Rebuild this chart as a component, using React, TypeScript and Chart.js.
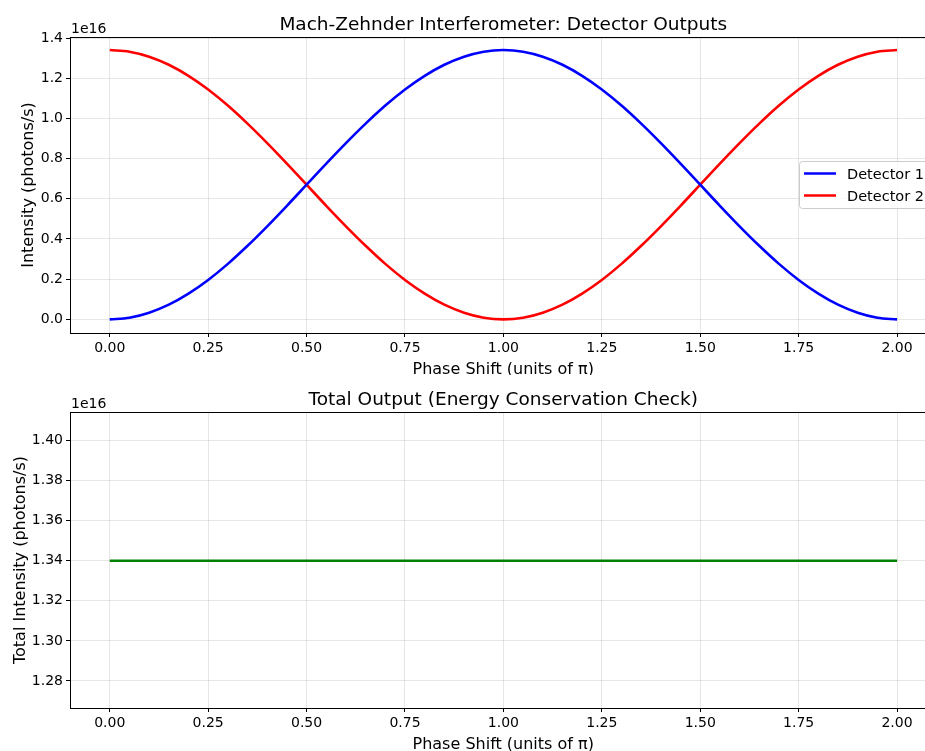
import React, { useEffect, useRef } from "react";
import { Chart, registerables } from "chart.js";
Chart.register(...registerables);

// ---- data (intensities in units of 1e16 photons/s) ----
const phase = [
  0, 0.05, 0.1, 0.15, 0.2, 0.25, 0.3, 0.35, 0.4, 0.45, 0.5, 0.55, 0.6, 0.65, 0.7, 0.75, 0.8, 0.85, 0.9, 0.95,
  1.0, 1.05, 1.1, 1.15, 1.2, 1.25, 1.3, 1.35, 1.4, 1.45, 1.5, 1.55, 1.6, 1.65, 1.7, 1.75, 1.8, 1.85, 1.9, 1.95, 2.0,
];
const detector1 = [
  0.0, 0.008, 0.033, 0.073, 0.128, 0.196, 0.276, 0.366, 0.463, 0.565, 0.67, 0.775, 0.877, 0.974, 1.064, 1.144,
  1.212, 1.267, 1.307, 1.332, 1.34, 1.332, 1.307, 1.267, 1.212, 1.144, 1.064, 0.974, 0.877, 0.775, 0.67, 0.565,
  0.463, 0.366, 0.276, 0.196, 0.128, 0.073, 0.033, 0.008, 0.0,
];
const detector2 = [
  1.34, 1.332, 1.307, 1.267, 1.212, 1.144, 1.064, 0.974, 0.877, 0.775, 0.67, 0.565, 0.463, 0.366, 0.276, 0.196,
  0.128, 0.073, 0.033, 0.008, 0.0, 0.008, 0.033, 0.073, 0.128, 0.196, 0.276, 0.366, 0.463, 0.565, 0.67, 0.775,
  0.877, 0.974, 1.064, 1.144, 1.212, 1.267, 1.307, 1.332, 1.34,
];
const totalOutput = [
  1.34, 1.34, 1.34, 1.34, 1.34, 1.34, 1.34, 1.34, 1.34, 1.34, 1.34, 1.34, 1.34, 1.34, 1.34, 1.34, 1.34, 1.34,
  1.34, 1.34, 1.34, 1.34, 1.34, 1.34, 1.34, 1.34, 1.34, 1.34, 1.34, 1.34, 1.34, 1.34, 1.34, 1.34, 1.34, 1.34,
  1.34, 1.34, 1.34, 1.34, 1.34,
];
const xTicks = [0, 0.25, 0.5, 0.75, 1.0, 1.25, 1.5, 1.75, 2.0];
const topYTicks = [0, 0.2, 0.4, 0.6, 0.8, 1.0, 1.2, 1.4];
const bottomYTicks = [1.28, 1.3, 1.32, 1.34, 1.36, 1.38, 1.4];
const seriesNames = ["Detector 1", "Detector 2", "Total"];
const topTitle = "Mach-Zehnder Interferometer: Detector Outputs";
const bottomTitle = "Total Output (Energy Conservation Check)";
const xLabel = "Phase Shift (units of π)";
const topYLabel = "Intensity (photons/s)";
const bottomYLabel = "Total Intensity (photons/s)";
const offsetText = "1e16";

const FONT = "'DejaVu Sans', Verdana, sans-serif";
const W = 925;

type Cfg = {
  height: number;
  datasets: { label: string; data: number[]; color: string }[];
  yMin: number;
  yMax: number;
  yTicks: number[];
  yDec: number;
  title: string;
  yLabel: string;
  yLabelX: number;
  legend: boolean;
};

function makeChart(canvas: HTMLCanvasElement, cfg: Cfg) {
  const decor = {
    id: "decor",
    afterDraw(chart: any) {
      const ctx = chart.ctx as CanvasRenderingContext2D;
      const a = chart.chartArea;
      const xs = chart.scales.x;
      const axesRight = xs.getPixelForValue(2.1);
      const cx = (a.left + axesRight) / 2;
      ctx.save();
      // top spine
      ctx.strokeStyle = "#000";
      ctx.lineWidth = 1;
      ctx.beginPath();
      ctx.moveTo(a.left, Math.round(a.top) + 0.5);
      ctx.lineTo(a.right, Math.round(a.top) + 0.5);
      ctx.stroke();
      ctx.fillStyle = "#000";
      // title
      ctx.font = `18.5px ${FONT}`;
      ctx.textAlign = "center";
      ctx.textBaseline = "alphabetic";
      ctx.fillText(cfg.title, cx, 30);
      // offset text
      ctx.font = `14px ${FONT}`;
      ctx.textAlign = "left";
      ctx.fillText(offsetText, a.left + 1, 33);
      // x label
      ctx.font = `16px ${FONT}`;
      ctx.textAlign = "center";
      ctx.fillText(xLabel, cx, 373.5);
      // y label
      ctx.save();
      ctx.translate(cfg.yLabelX, (a.top + a.bottom) / 2);
      ctx.rotate(-Math.PI / 2);
      ctx.fillText(cfg.yLabel, 0, 0);
      ctx.restore();
      // legend
      if (cfg.legend) {
        const lx = 799.5, ly = 161.5, lw = 150, lh = 47;
        ctx.beginPath();
        const r = 3;
        ctx.moveTo(lx + r, ly);
        ctx.lineTo(lx + lw - r, ly);
        ctx.arcTo(lx + lw, ly, lx + lw, ly + r, r);
        ctx.lineTo(lx + lw, ly + lh - r);
        ctx.arcTo(lx + lw, ly + lh, lx + lw - r, ly + lh, r);
        ctx.lineTo(lx + r, ly + lh);
        ctx.arcTo(lx, ly + lh, lx, ly + lh - r, r);
        ctx.lineTo(lx, ly + r);
        ctx.arcTo(lx, ly, lx + r, ly, r);
        ctx.closePath();
        ctx.fillStyle = "rgba(255,255,255,0.8)";
        ctx.fill();
        ctx.strokeStyle = "rgb(204,204,204)";
        ctx.lineWidth = 1;
        ctx.stroke();
        cfg.datasets.forEach((d, i) => {
          const y = 173.5 + i * 22;
          ctx.strokeStyle = d.color;
          ctx.lineWidth = 2.5;
          ctx.beginPath();
          ctx.moveTo(804, y);
          ctx.lineTo(836, y);
          ctx.stroke();
          ctx.fillStyle = "#000";
          ctx.font = `14.5px ${FONT}`;
          ctx.textAlign = "left";
          ctx.textBaseline = "alphabetic";
          ctx.fillText(d.label, 847, y + 5);
        });
      }
      ctx.restore();
    },
  };

  const tickFont = { family: FONT, size: 14 };
  return new Chart(canvas, {
    type: "line",
    data: {
      datasets: cfg.datasets.map((d) => ({
        label: d.label,
        data: phase.map((p, i) => ({ x: p, y: d.data[i] })),
        borderColor: d.color,
        backgroundColor: d.color,
        borderWidth: 2.6,
        pointRadius: 0,
        cubicInterpolationMode: "monotone" as const,
        fill: false,
      })),
    },
    options: {
      animation: false,
      responsive: false,
      layout: { padding: { top: 37, left: 0, right: 0, bottom: 0 } },
      plugins: { legend: { display: false }, title: { display: false }, tooltip: { enabled: false } },
      scales: {
        x: {
          type: "linear",
          min: -0.101,
          max: 2.071,
          afterFit: (s: any) => {
            s.height = cfg.height - 333;
          },
          afterBuildTicks: (s: any) => {
            s.ticks = xTicks.map((v) => ({ value: v }));
          },
          ticks: {
            font: tickFont,
            color: "#000",
            padding: 3,
            maxRotation: 0,
            autoSkip: false,
            callback: (v: any) => Number(v).toFixed(2),
          },
          grid: {
            color: "rgba(176,176,176,0.32)",
            lineWidth: 1,
            tickColor: "#000",
            tickLength: 4,
            drawTicks: true,
          },
          border: { display: true, color: "#000", width: 1 },
        },
        y: {
          type: "linear",
          min: cfg.yMin,
          max: cfg.yMax,
          afterFit: (s: any) => {
            s.width = 70;
          },
          afterBuildTicks: (s: any) => {
            s.ticks = cfg.yTicks.map((v) => ({ value: v }));
          },
          ticks: {
            font: tickFont,
            color: "#000",
            padding: 3,
            autoSkip: false,
            callback: (v: any) => Number(v).toFixed(cfg.yDec),
          },
          grid: {
            color: "rgba(176,176,176,0.32)",
            lineWidth: 1,
            tickColor: "#000",
            tickLength: 4,
            drawTicks: true,
          },
          border: { display: true, color: "#000", width: 1 },
        },
      },
    },
    plugins: [decor],
  } as any);
}

function ChartPanel({ cfg, top }: { cfg: Cfg; top: number }) {
  const ref = useRef<HTMLCanvasElement | null>(null);
  useEffect(() => {
    if (!ref.current) return;
    const c = makeChart(ref.current, cfg);
    return () => c.destroy();
  }, []);
  return (
    <canvas
      ref={ref}
      width={W}
      height={cfg.height}
      style={{ position: "absolute", left: 0, top, width: W, height: cfg.height, display: "block" }}
    />
  );
}

export default function App() {
  const topCfg: Cfg = {
    height: 375,
    datasets: [
      { label: seriesNames[0], data: detector1, color: "#0000ff" },
      { label: seriesNames[1], data: detector2, color: "#ff0000" },
    ],
    yMin: -0.068,
    yMax: 1.405,
    yTicks: topYTicks,
    yDec: 1,
    title: topTitle,
    yLabel: topYLabel,
    yLabelX: 32.5,
    legend: true,
  };
  const bottomCfg: Cfg = {
    height: 376,
    datasets: [{ label: seriesNames[2], data: totalOutput, color: "#008000" }],
    yMin: 1.2665,
    yMax: 1.4143,
    yTicks: bottomYTicks,
    yDec: 2,
    title: bottomTitle,
    yLabel: bottomYLabel,
    yLabelX: 24.5,
    legend: false,
  };
  return (
    <div style={{ position: "absolute", left: 0, top: 0, width: W, height: 751, background: "#fff", overflow: "hidden" }}>
      <ChartPanel cfg={topCfg} top={0} />
      <ChartPanel cfg={bottomCfg} top={375} />
    </div>
  );
}
